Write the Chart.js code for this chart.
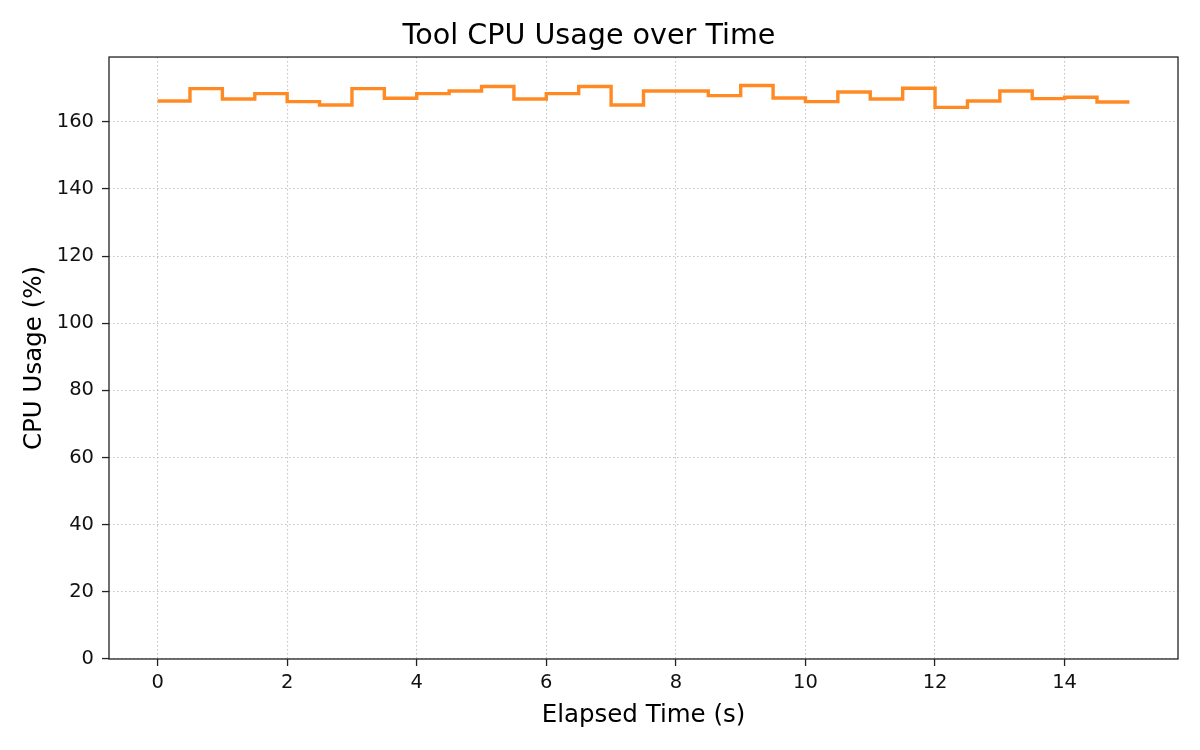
<!DOCTYPE html>
<html>
<head>
<meta charset="utf-8">
<script src="https://cdn.jsdelivr.net/npm/chart.js@4"></script>
<style>
  body { margin: 0; background: #fff; }
  canvas { display: block; }
</style>
</head>
<body>
<canvas id="cpuChart" width="1200" height="750"></canvas>
<script>
// data (0.5 s samples)
const elapsed = [0, 0.5, 1, 1.5, 2, 2.5, 3, 3.5, 4, 4.5, 5, 5.5, 6, 6.5, 7, 7.5,
                 8, 8.5, 9, 9.5, 10, 10.5, 11, 11.5, 12, 12.5, 13, 13.5, 14, 14.5, 15];
const cpuUsage = [166.2, 169.9, 166.8, 168.4, 166.0, 165.0, 169.9, 167.0, 168.4, 169.2,
                  170.5, 166.8, 168.4, 170.5, 165.0, 169.2, 169.2, 167.8, 170.8, 167.1,
                  166.0, 168.9, 166.8, 170.0, 164.3, 166.2, 169.2, 166.9, 167.3, 165.9, 165.9];
const xTicks = [0, 2, 4, 6, 8, 10, 12, 14];
const yTicks = [0, 20, 40, 60, 80, 100, 120, 140, 160];

const FONT = "'DejaVu Sans', sans-serif";

// matplotlib style frame round the plot area
const frame = {
    id: 'frame',
    afterDatasetsDraw(chart) {
        const a = chart.chartArea;
        const ctx = chart.ctx;
        ctx.save();
        ctx.strokeStyle = '#222';
        ctx.lineWidth = 1.3;
        ctx.strokeRect(a.left, a.top, a.right - a.left, a.bottom - a.top);
        ctx.restore();
    }
};

const gridOpts = {
    color: '#c4c4c4',
    lineWidth: 1.1,
    drawTicks: true,
    tickLength: 7,
    tickColor: '#222',
    tickWidth: 1.3,
    tickBorderDash: []
};

const ctx = document.getElementById('cpuChart').getContext('2d');
const cpuChart = new Chart(ctx, {
    type: 'line',
    data: {
        datasets: [{
            label: 'CPU',
            data: elapsed.map((t, i) => ({ x: t, y: cpuUsage[i] })),
            borderColor: '#ff8a24',
            borderWidth: 3.4,
            stepped: 'before',
            pointRadius: 0,
            fill: false,
            borderJoinStyle: 'miter'
        }]
    },
    plugins: [frame],
    options: {
        responsive: false,
        animation: false,
        layout: { padding: { left: 0, right: 22, top: 0, bottom: 0 } },
        plugins: {
            legend: { display: false },
            tooltip: { enabled: false },
            title: {
                display: true,
                text: 'Tool CPU Usage over Time',
                color: '#000',
                font: { family: FONT, size: 28.6, weight: 'normal' },
                padding: { top: 19, bottom: 3.7 }
            }
        },
        scales: {
            x: {
                type: 'linear',
                min: -0.75,
                max: 15.75,
                afterBuildTicks: axis => { axis.ticks = xTicks.map(v => ({ value: v })); },
                afterFit: scale => { scale.height = 91; },
                grid: gridOpts,
                border: { display: false, dash: [1.5, 2.5] },
                ticks: { color: '#111', font: { family: FONT, size: 19.5 }, padding: 5, maxRotation: 0 },
                title: {
                    display: true,
                    text: 'Elapsed Time (s)',
                    color: '#000',
                    font: { family: FONT, size: 24.5 },
                    padding: { top: 0, bottom: 20 }
                }
            },
            y: {
                type: 'linear',
                min: 0,
                max: 179.3,
                afterBuildTicks: axis => { axis.ticks = yTicks.map(v => ({ value: v })); },
                afterFit: scale => { scale.width = 109; },
                grid: gridOpts,
                border: { display: false, dash: [1.5, 2.5] },
                ticks: { color: '#111', font: { family: FONT, size: 19.5 }, padding: 8 },
                title: {
                    display: true,
                    text: 'CPU Usage (%)',
                    color: '#000',
                    font: { family: FONT, size: 24.5 },
                    padding: { top: 20, bottom: 0 }
                }
            }
        }
    }
});
</script>
</body>
</html>
